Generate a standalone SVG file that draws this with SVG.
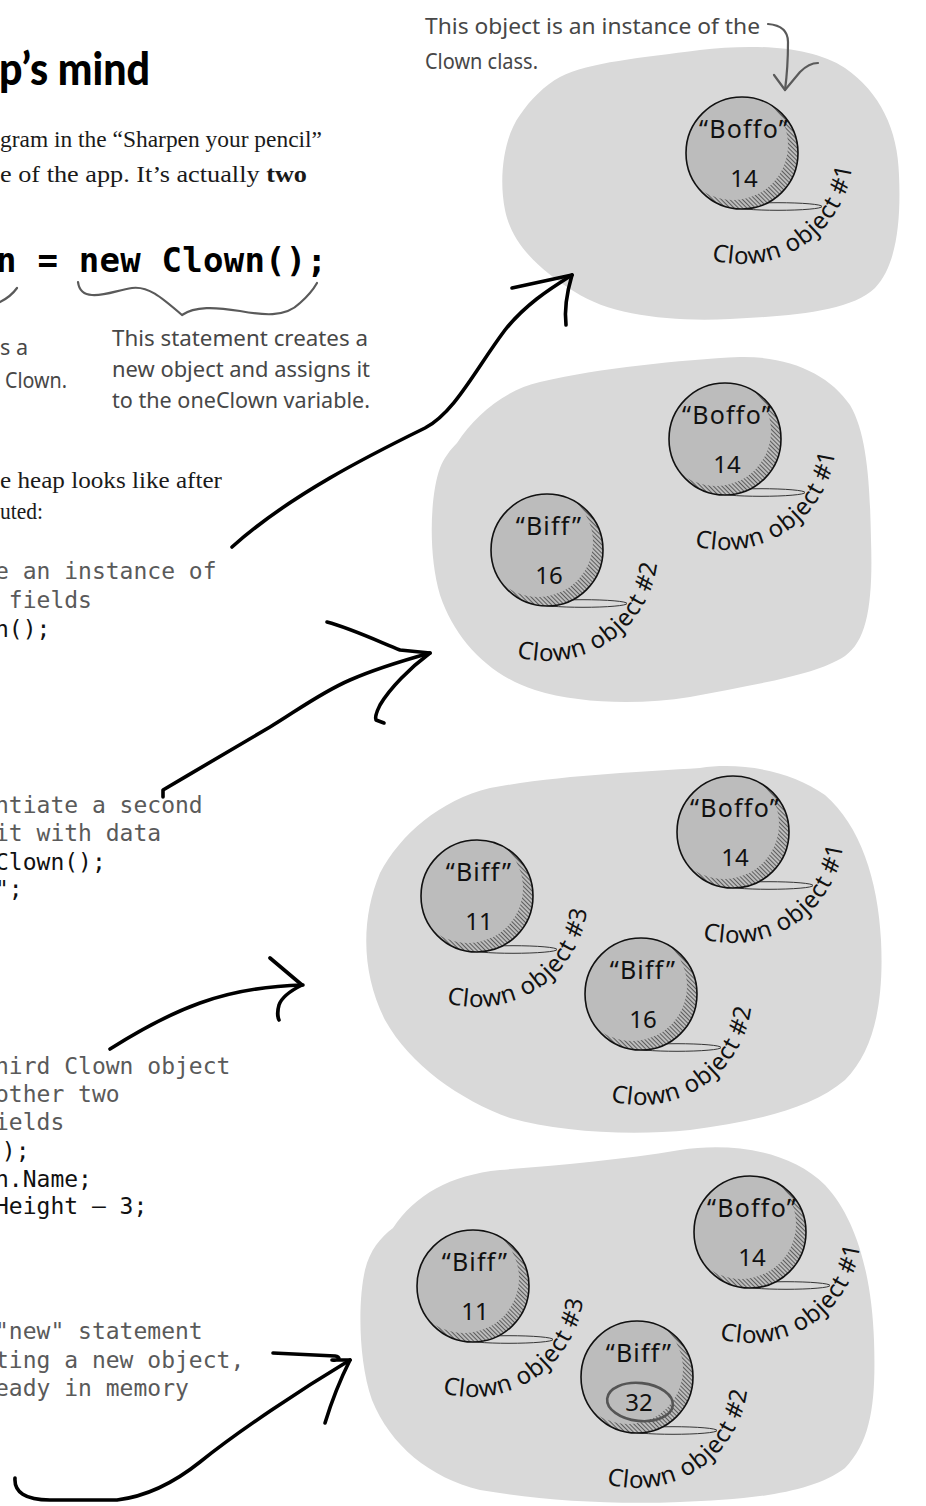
<svg xmlns="http://www.w3.org/2000/svg" width="926" height="1506" viewBox="0 0 926 1506">
  <style>
    .blob { fill: #d9d9d9; }
    .title { font-family: Lato, "DejaVu Sans", sans-serif; font-weight: 900; font-size: 46px; fill: #000; }
    .body { font-family: "Liberation Serif", serif; font-size: 23px; fill: #1a1a1a; }
    .big { font-family: "DejaVu Sans Mono", monospace; font-weight: bold; font-size: 34px; fill: #000; }
    .code { font-family: "DejaVu Sans Mono", monospace; font-size: 23px; }
    .cm { fill: #5a5a5a; }
    .kw { fill: #111; }
    .hand { font-family: "Noto Sans", "DejaVu Sans", sans-serif; font-size: 21px; fill: #474747; }
    .name { font-family: "Noto Sans", "DejaVu Sans", sans-serif; font-size: 25px; fill: #111; text-anchor: middle; letter-spacing: 1.2px; }
    .val { font-family: "Noto Sans", "DejaVu Sans", sans-serif; font-size: 24px; fill: #111; text-anchor: middle; }
    .lbl { font-family: "Noto Sans", "DejaVu Sans", sans-serif; font-size: 24px; fill: #111; letter-spacing: 0.8px; }
    .arrow { fill: none; stroke: #000; stroke-width: 3.6; stroke-linecap: round; stroke-linejoin: round; }
    .pen { fill: none; stroke: #5a5a5a; stroke-width: 2.2; stroke-linecap: round; stroke-linejoin: round; }
    .loop { fill: none; stroke: #555; stroke-width: 2.6; }
  </style>
  <defs>
    <pattern id="hatch" patternUnits="userSpaceOnUse" width="3" height="3" patternTransform="rotate(-45)">
      <line x1="0.5" y1="0" x2="0.5" y2="3" stroke="#333" stroke-width="0.7"/>
    </pattern>
    <clipPath id="ballClip"><circle r="56"/></clipPath>
    <!-- one clown object: shaded sphere with shadow, centred on 0,0 -->
    <g id="ball">
      <ellipse cx="36" cy="53.5" rx="44" ry="3.8" fill="none" stroke="#222" stroke-width="0.9"/>
      <circle r="56" fill="#bcbcbc"/>
      <circle r="56" fill="url(#hatch)"/>
      <circle cx="-9" cy="-8" r="55" fill="#bcbcbc" clip-path="url(#ballClip)"/>
      <circle r="56" fill="none" stroke="#111" stroke-width="1.6"/>
    </g>
    <path id="lblArc" d="M-30.6,106.7 A111,111 0 0 0 109.9,15.4"/>
  </defs>

  <!-- page text -->
  <g id="page-text">
    <text class="title" x="-1" y="85" textLength="151" lengthAdjust="spacingAndGlyphs">p’s mind</text>
    <text class="body" x="0" y="147" textLength="322" lengthAdjust="spacingAndGlyphs">gram in the “Sharpen your pencil”</text>
    <text class="body" x="0" y="182" textLength="307" lengthAdjust="spacingAndGlyphs">e of the app. It’s actually <tspan font-weight="bold">two</tspan></text>
    <text class="big" x="-4" y="272" textLength="331" lengthAdjust="spacing">n = new Clown();</text>
    <text class="body" x="0" y="488" textLength="222" lengthAdjust="spacingAndGlyphs">e heap looks like after</text>
    <text class="body" x="0" y="519" textLength="43" lengthAdjust="spacingAndGlyphs">uted:</text>
  </g>

  <!-- code listings -->
  <g id="code-1" class="code">
    <text class="cm" x="-5" y="579">e an instance of</text>
    <text class="cm" x="8.85" y="608">fields</text>
    <text class="kw" x="-5" y="637">n();</text>
  </g>
  <g id="code-2" class="code">
    <text class="cm" x="-5" y="813">ntiate a second</text>
    <text class="cm" x="-5" y="841">it with data</text>
    <text class="kw" x="-5" y="870">Clown();</text>
    <text class="kw" x="-5" y="897">";</text>
  </g>
  <g id="code-3" class="code">
    <text class="cm" x="-5" y="1074">hird Clown object</text>
    <text class="cm" x="-5" y="1102">other two</text>
    <text class="cm" x="-5" y="1130">ields</text>
    <text class="kw" x="-12" y="1159">();</text>
    <text class="kw" x="-5" y="1187">n.Name;</text>
    <text class="kw" x="-5" y="1214">Height – 3;</text>
  </g>
  <g id="code-4" class="code">
    <text class="cm" x="-5" y="1339">"new" statement</text>
    <text class="cm" x="-5" y="1368">ting a new object,</text>
    <text class="cm" x="-5" y="1396">eady in memory</text>
  </g>

  <!-- heap snapshots -->
  <g id="heap-1">
    <path class="blob" d="M560,77 C590,62 640,58 700,50 C750,44 810,45 845,68 C880,92 898,130 899,175 C901,220 897,265 875,288 C850,312 790,316 730,319 C670,322 610,315 575,292 C540,270 512,245 505,210 C498,175 505,135 520,115 C530,100 545,85 560,77 Z"/>
    <g id="heap1-clown1" transform="translate(742,153)">
      <use href="#ball"/>
      <text class="name" x="2" y="-15">“Boffo”</text>
      <text class="val" x="2" y="34">14</text>
      <text class="lbl"><textPath href="#lblArc">Clown object #1</textPath></text>
    </g>
  </g>
  <g id="heap-2">
    <path class="blob" d="M457,443 C475,415 505,390 540,382 C600,368 680,360 740,357 C790,356 830,375 850,405 C868,435 870,490 871,540 C873,600 868,640 845,656 C815,676 750,685 690,697 C640,705 580,704 535,690 C490,676 455,640 440,595 C428,555 430,495 440,468 C444,458 450,450 457,443 Z"/>
    <g id="heap2-clown1" transform="translate(725,439)">
      <use href="#ball"/>
      <text class="name" x="2" y="-15">“Boffo”</text>
      <text class="val" x="2" y="34">14</text>
      <text class="lbl"><textPath href="#lblArc">Clown object #1</textPath></text>
    </g>
    <g id="heap2-clown2" transform="translate(547,550)">
      <use href="#ball"/>
      <text class="name" x="2" y="-15">“Biff”</text>
      <text class="val" x="2" y="34">16</text>
      <text class="lbl"><textPath href="#lblArc">Clown object #2</textPath></text>
    </g>
  </g>
  <g id="heap-3">
    <path class="blob" d="M380,873 C400,835 440,800 490,788 C560,775 640,772 700,768 C740,762 790,770 825,795 C860,825 878,880 881,940 C884,1000 875,1050 845,1080 C810,1110 750,1122 690,1130 C630,1136 560,1132 510,1118 C460,1100 410,1065 385,1020 C362,975 360,920 380,873 Z"/>
    <g id="heap3-clown1" transform="translate(733,832)">
      <use href="#ball"/>
      <text class="name" x="2" y="-15">“Boffo”</text>
      <text class="val" x="2" y="34">14</text>
      <text class="lbl"><textPath href="#lblArc">Clown object #1</textPath></text>
    </g>
    <g id="heap3-clown3" transform="translate(477,896)">
      <use href="#ball"/>
      <text class="name" x="2" y="-15">“Biff”</text>
      <text class="val" x="2" y="34">11</text>
      <text class="lbl"><textPath href="#lblArc">Clown object #3</textPath></text>
    </g>
    <g id="heap3-clown2" transform="translate(641,994)">
      <use href="#ball"/>
      <text class="name" x="2" y="-15">“Biff”</text>
      <text class="val" x="2" y="34">16</text>
      <text class="lbl"><textPath href="#lblArc">Clown object #2</textPath></text>
    </g>
  </g>
  <g id="heap-4">
    <path class="blob" d="M393,1228 C415,1195 450,1175 500,1170 C560,1165 620,1160 680,1150 C730,1142 790,1150 825,1185 C858,1220 872,1280 874,1340 C876,1400 872,1440 845,1468 C810,1495 740,1500 680,1502 C610,1505 540,1500 480,1490 C430,1478 390,1445 372,1400 C358,1360 358,1300 365,1270 C370,1250 380,1238 393,1228 Z"/>
    <g id="heap4-clown1" transform="translate(750,1232)">
      <use href="#ball"/>
      <text class="name" x="2" y="-15">“Boffo”</text>
      <text class="val" x="2" y="34">14</text>
      <text class="lbl"><textPath href="#lblArc">Clown object #1</textPath></text>
    </g>
    <g id="heap4-clown3" transform="translate(473,1286)">
      <use href="#ball"/>
      <text class="name" x="2" y="-15">“Biff”</text>
      <text class="val" x="2" y="34">11</text>
      <text class="lbl"><textPath href="#lblArc">Clown object #3</textPath></text>
    </g>
    <g id="heap4-clown2" transform="translate(637,1377)">
      <use href="#ball"/>
      <text class="name" x="2" y="-15">“Biff”</text>
      <text class="val" x="2" y="34">32</text>
      <ellipse class="loop" cx="3" cy="25" rx="33" ry="19" transform="rotate(6 3 25)"/>
      <text class="lbl"><textPath href="#lblArc">Clown object #2</textPath></text>
    </g>
  </g>

  <!-- handwritten notes, drawn over the heaps -->
  <g id="note-instance">
    <text class="hand" x="425" y="34" textLength="335" lengthAdjust="spacingAndGlyphs">This object is an instance of the</text>
    <text class="hand" x="425" y="69" textLength="113" lengthAdjust="spacingAndGlyphs">Clown class.</text>
    <path class="pen" d="M768,24 C780,25 788,30 788,42 C788,58 787,75 785,90"/>
    <path class="pen" d="M774,75 L785,90 L800,72 C806,66 812,63 818,63"/>
  </g>
  <g id="note-statement">
    <path class="pen" d="M78,282 C79,290 84,295 92,295 C105,296 118,290 132,288 C148,286 160,296 182,315 C195,306 215,307 240,311 C262,315 285,318 300,303 C308,296 313,290 317,283"/>
    <text class="hand" x="112" y="346" textLength="256" lengthAdjust="spacingAndGlyphs">This statement creates a</text>
    <text class="hand" x="112" y="377" textLength="258" lengthAdjust="spacingAndGlyphs">new object and assigns it</text>
    <text class="hand" x="112" y="408" textLength="258" lengthAdjust="spacingAndGlyphs">to the oneClown variable.</text>
  </g>
  <g id="note-declare">
    <path class="pen" d="M0,302 C6,299 12,295 17,288"/>
    <text class="hand" x="0" y="355" textLength="28" lengthAdjust="spacingAndGlyphs">s a</text>
    <text class="hand" x="5" y="388" textLength="62" lengthAdjust="spacingAndGlyphs">Clown.</text>
  </g>

  <!-- arrows from each listing to its heap -->
  <g id="connectors">
    <path class="arrow" d="M232,547 C290,495 370,455 425,428 C455,412 475,370 505,330 C525,305 548,290 572,275"/>
    <path class="arrow" d="M512,288 L572,275 C567,292 564,308 566,325"/>
    <path class="arrow" d="M163,797 L163,790 C200,768 240,745 270,727 C295,712 320,693 350,680 C375,669 405,660 430,653"/>
    <path class="arrow" d="M327,622 C350,628 380,642 400,650 L430,653 C410,668 390,688 380,705 C376,713 375,718 376,720 L384,723"/>
    <path class="arrow" d="M110,1049 C140,1030 175,1012 200,1003 C230,992 265,986 303,985"/>
    <path class="arrow" d="M270,958 L302,985 C292,990 282,996 279,1005 C277,1012 278,1018 279,1020"/>
    <path class="arrow" d="M15,1478 C14,1492 25,1500 50,1500 L117,1500 C150,1496 180,1478 200,1462 C240,1430 300,1390 350,1360"/>
    <path class="arrow" d="M273,1353 L335,1356 C341,1357 340,1361 332,1360 L350,1360 C341,1378 332,1400 325,1423"/>
  </g>
</svg>
